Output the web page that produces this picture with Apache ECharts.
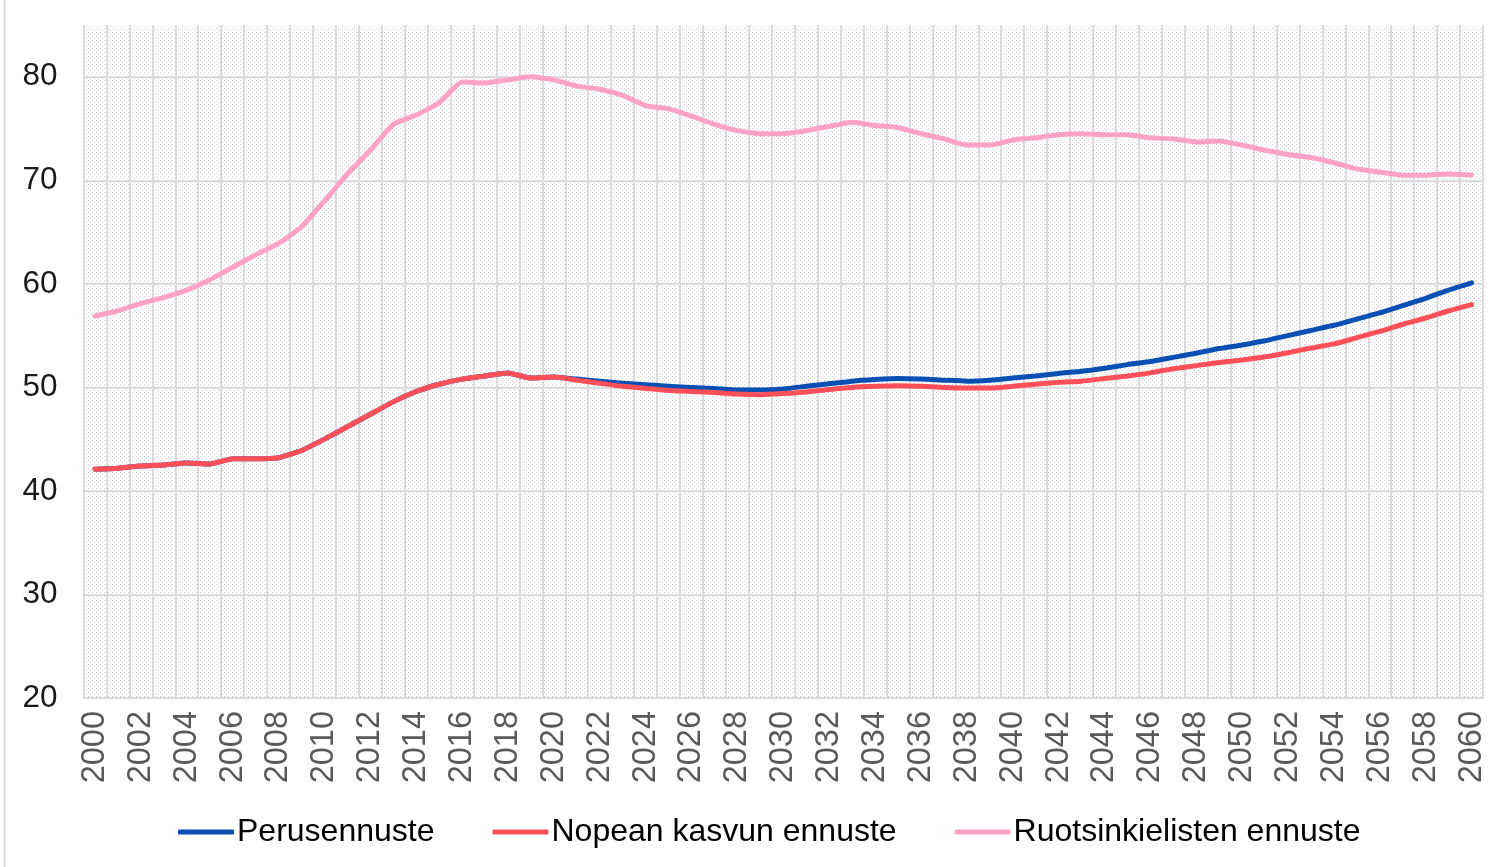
<!DOCTYPE html>
<html>
<head>
<meta charset="utf-8">
<script src="https://cdn.jsdelivr.net/npm/echarts@6/dist/echarts.min.js"></script>
<style>
  html, body { margin: 0; padding: 0; background: #fff; }
  #chart { width: 1488px; height: 867px; }
</style>
</head>
<body>
<div id="chart"></div>
<script>
// vuodet 2000-2060
const years = []
for (let y = 2000; y <= 2060; y++) years.push(String(y))

const perusennuste = [
  42.1, 42.2, 42.4, 42.5, 42.7, 42.6, 43.1, 43.1, 43.2, 43.9,
  45.0, 46.2, 47.4, 48.6, 49.6, 50.3, 50.8, 51.1, 51.4, 50.9,
  51.0, 50.8, 50.6, 50.4, 50.25, 50.1, 50.0, 49.9, 49.75, 49.75,
  49.85, 50.1, 50.35, 50.6, 50.75, 50.85, 50.8, 50.7, 50.6, 50.7,
  50.9, 51.1, 51.35, 51.55, 51.85, 52.2, 52.5, 52.9, 53.3, 53.75,
  54.1, 54.5, 55.0, 55.5, 56.0, 56.6, 57.2, 57.9, 58.6, 59.4,
  60.1
]

const nopeaKasvu = [
  42.1, 42.2, 42.4, 42.5, 42.7, 42.6, 43.1, 43.1, 43.2, 43.9,
  45.0, 46.2, 47.4, 48.6, 49.6, 50.3, 50.8, 51.1, 51.4, 50.9,
  51.0, 50.7, 50.4, 50.1, 49.9, 49.7, 49.6, 49.5, 49.35, 49.3,
  49.4, 49.55, 49.8, 50.0, 50.1, 50.15, 50.1, 50.0, 49.95, 49.95,
  50.1, 50.3, 50.5, 50.6, 50.85, 51.1, 51.4, 51.8, 52.1, 52.4,
  52.65, 52.95, 53.35, 53.8, 54.2, 54.8, 55.4, 56.1, 56.7, 57.4,
  58.0
]

const ruotsinkieliset = [
  56.9, 57.4, 58.1, 58.7, 59.4, 60.4, 61.6, 62.8, 63.9, 65.5,
  68.0, 70.6, 72.9, 75.4, 76.3, 77.5, 79.5, 79.4, 79.7, 80.0,
  79.7, 79.1, 78.8, 78.2, 77.2, 76.9, 76.2, 75.4, 74.8, 74.5,
  74.5, 74.8, 75.2, 75.6, 75.3, 75.1, 74.5, 74.0, 73.4, 73.4,
  73.9, 74.1, 74.4, 74.5, 74.4, 74.4, 74.1, 74.0, 73.7, 73.8,
  73.4, 72.9, 72.5, 72.2, 71.7, 71.1, 70.8, 70.5, 70.5, 70.6,
  70.5
]

const seriesNames = ['Perusennuste', 'Nopean kasvun ennuste', 'Ruotsinkielisten ennuste']
const seriesColors = ['#0a50b4', '#ff505a', '#ffa2c6']

// vinoviivoitettu tausta (pisteviivat)
const hatch = document.createElement('canvas')
hatch.width = 8
hatch.height = 8
const hctx = hatch.getContext('2d')
hctx.fillStyle = '#ffffff'
hctx.fillRect(0, 0, 8, 8)
hctx.fillStyle = '#d2d2d2'
for (let x = 0; x < 8; x++) {
  for (let y = 0; y < 8; y++) {
    if ((x - y + 8) % 4 === 0 && x % 2 === 0) hctx.fillRect(x, y, 1, 1)
  }
}

const chart = echarts.init(document.getElementById('chart'))

const makeSeries = (name, data, color) => ({
  name: name,
  type: 'line',
  data: data,
  symbol: 'none',
  smooth: 0.15,
  lineStyle: { width: 5, color: color, cap: 'round', join: 'round' },
  itemStyle: { color: color }
})

const option = {
  animation: false,
  backgroundColor: '#ffffff',
  textStyle: { fontFamily: 'Liberation Sans, Arial, sans-serif' },
  grid: {
    left: 83.5,
    right: 0.5,
    top: 25,
    bottom: 169,
    show: true,
    borderWidth: 0,
    backgroundColor: { image: hatch, repeat: 'repeat' }
  },
  legend: {
    bottom: 14,
    left: 173,
    itemGap: 58,
    itemWidth: 56,
    itemHeight: 5,
    icon: 'roundRect',
    textStyle: { fontSize: 32, color: '#000', padding: [0, 0, 0, -2] },
    data: seriesNames
  },
  xAxis: {
    type: 'category',
    data: years,
    boundaryGap: true,
    axisLine: { lineStyle: { color: '#d9d9d9', width: 2 } },
    axisTick: { show: false },
    axisLabel: {
      interval: 1,
      rotate: 90,
      margin: 13,
      fontSize: 32.5,
      color: '#595959'
    },
    splitLine: { show: true, interval: 0, lineStyle: { color: '#dcdcdc', width: 2 } }
  },
  yAxis: {
    type: 'value',
    min: 20,
    max: 85,
    interval: 10,
    axisLine: { show: false },
    axisTick: { show: false },
    axisLabel: {
      fontSize: 31.5,
      color: '#1a1a1a',
      margin: 26,
      formatter: v => (v % 10 === 0 ? String(v) : '')
    },
    splitLine: { show: true, showMaxLine: false, lineStyle: { color: '#dcdcdc', width: 2 } }
  },
  graphic: [{
    type: 'line',
    shape: { x1: 4.5, y1: 0, x2: 4.5, y2: 867 },
    style: { stroke: '#d9d9d9', lineWidth: 2 }
  }],
  series: [
    makeSeries(seriesNames[0], perusennuste, seriesColors[0]),
    makeSeries(seriesNames[1], nopeaKasvu, seriesColors[1]),
    makeSeries(seriesNames[2], ruotsinkieliset, seriesColors[2])
  ]
}

chart.setOption(option)
</script>
</body>
</html>
